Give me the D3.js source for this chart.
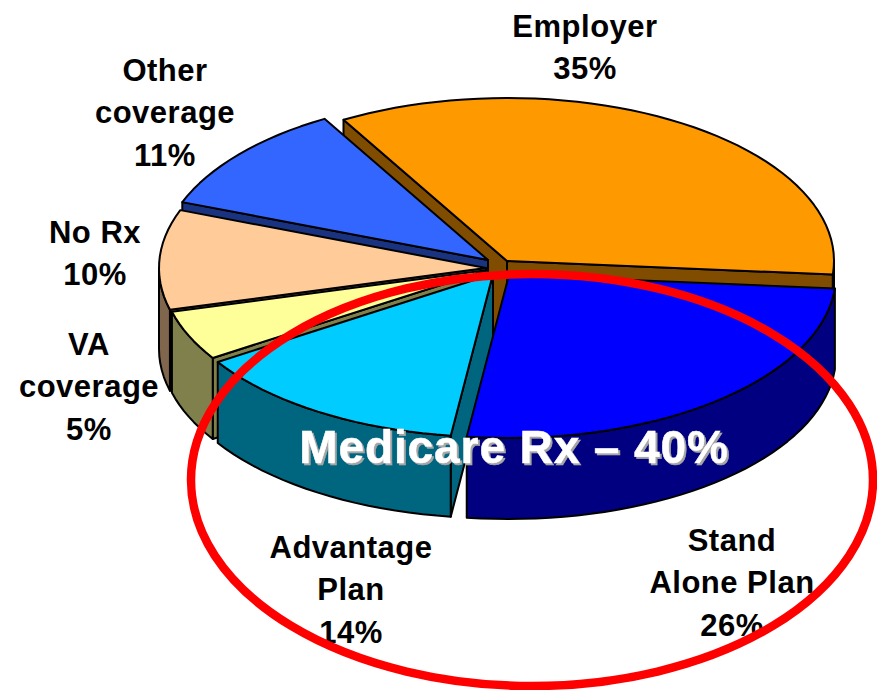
<!DOCTYPE html>
<html>
<head>
<meta charset="utf-8">
<script src="https://cdn.jsdelivr.net/npm/d3@7"></script>
<style>
html,body{margin:0;padding:0;background:#fff;}
svg{display:block;}
text{font-family:"Liberation Sans",Arial,sans-serif;font-weight:700;}
</style>
</head>
<body>
<svg id="chart" width="877" height="690"></svg>
<script>
// Data, clockwise from the Employer slice
const categories = ["Employer", "Stand Alone Plan", "Advantage Plan", "VA coverage", "No Rx", "Other coverage"];
const values = [35, 26, 14, 5, 10, 11];
const labelLines = [["Employer"], ["Stand", "Alone Plan"], ["Advantage", "Plan"], ["VA", "coverage"], ["No Rx"], ["Other", "coverage"]];
const topColors = ["#FF9900", "#0000FF", "#00CCFF", "#FFFF99", "#FFCC99", "#3366FF"];
const wallColors = ["#804C00", "#000080", "#006680", "#80804C", "#80664C", "#1A3380"];
const annotation = "Medicare Rx \u2013 40%";

// Layout
const W = 877, H = 690;
const center = [490, 266], rx = 327, ry = 163, depth = 81;
const apexDX = [17, 19, 3, -2, -4, -2];
const apexDY = [-5, 9, 8, 4, 2, -6];
const paintOrder = [0, 5, 4, 3, 2, 1];
const labelX = [585, 732, 351, 89, 95, 165];
const labelY = [37, 551, 558, 355, 243, 81];
const lineGap = 42.4;

const svg = d3.select("#chart");
const sx = d3.scaleLinear().domain([-1, 1]).range([-rx, rx]);
const sy = d3.scaleLinear().domain([-1, 1]).range([-ry, ry]);
const deg = Math.PI / 180;
const arcs = d3.pie().sort(null).value(d => d)
  .startAngle(-30 * deg).endAngle(330 * deg)(values);

const line = d3.line();
function rim(i, a) {
  return [center[0] + apexDX[i] + sx(Math.sin(a)), center[1] + apexDY[i] - sy(Math.cos(a))];
}
function apex(i) { return [center[0] + apexDX[i], center[1] + apexDY[i]]; }
function down(p) { return [p[0], p[1] + depth]; }
function samples(a0, a1) {
  const n = Math.max(2, Math.ceil((a1 - a0) / (2.5 * deg)));
  return d3.range(n + 1).map(k => a0 + (a1 - a0) * k / n);
}
function draw(points, fill) {
  svg.append("path").attr("d", line(points) + "Z")
    .attr("fill", fill).attr("stroke", "#000")
    .attr("stroke-width", 2).attr("stroke-linejoin", "round");
}

paintOrder.forEach(i => {
  const a0 = arcs[i].startAngle, a1 = arcs[i].endAngle;
  const A = apex(i);
  [a0, a1].forEach((a, k) => {
    const visible = k === 0 ? Math.sin(a) < 0 : Math.sin(a) > 0;
    if (visible) {
      const R = rim(i, a);
      draw([A, R, down(R), down(A)], wallColors[i]);
    }
  });
  // Outer wall: only the front half of the ellipse faces the viewer
  const f0 = Math.max(a0, 90 * deg), f1 = Math.min(a1, 270 * deg);
  if (f1 > f0) {
    const upper = samples(f0, f1).map(a => rim(i, a));
    draw(upper.concat(upper.slice().reverse().map(down)), wallColors[i]);
  }
  draw([A].concat(samples(a0, a1).map(a => rim(i, a))), topColors[i]);
});

// Slice labels
arcs.forEach((d, i) => {
  const lines = labelLines[i].concat([values[i] + "%"]);
  lines.forEach((t, k) => {
    svg.append("text").attr("x", labelX[i]).attr("y", labelY[i] + k * lineGap)
      .attr("text-anchor", "middle").attr("font-size", 31)
      .attr("letter-spacing", 0.5).attr("fill", "#000").text(t);
  });
});

// Red ellipse around the Medicare slices, over the labels
svg.append("ellipse")
  .attr("cx", 532).attr("cy", 480).attr("rx", 341).attr("ry", 206)
  .attr("fill", "none").attr("stroke", "#FF0000").attr("stroke-width", 8.5);

// Annotation with its drop shadow
svg.append("text").attr("x", 514).attr("y", 463)
  .attr("text-anchor", "middle").attr("font-size", 46)
  .attr("letter-spacing", 0.9).attr("fill", "#FFFFFF")
  .attr("stroke", "#FFFFFF").attr("stroke-width", 0.5)
  .style("filter", "drop-shadow(2px 2px 0 #A6A6A6)").text(annotation);
</script>
</body>
</html>
